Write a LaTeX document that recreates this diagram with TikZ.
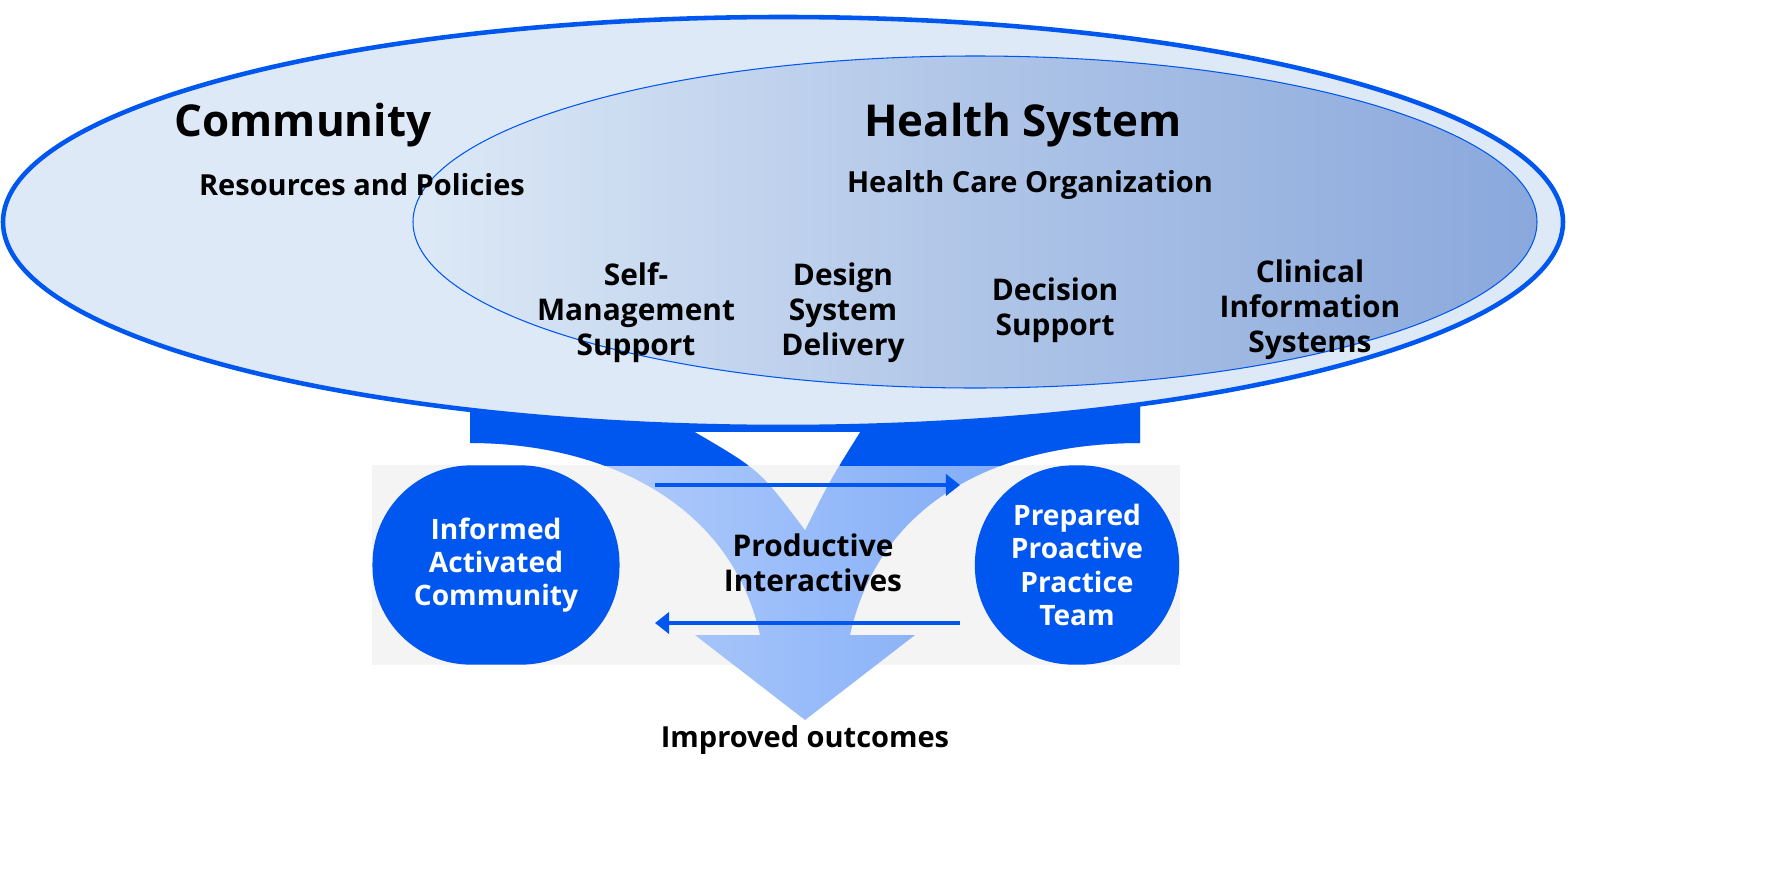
\documentclass[tikz,border=0pt]{standalone}
\usepackage{fontspec}
\setmainfont{Open Sans}
\usetikzlibrary{arrows.meta}
\definecolor{ccmblue}{HTML}{0057F0}
\definecolor{ccmpale}{HTML}{DDE9F6}
\definecolor{ccmmid}{HTML}{8AA8DC}
\definecolor{ccmgray}{HTML}{F4F4F4}
\begin{document}
\begin{tikzpicture}[x=0.02cm,y=-0.02cm]
\tikzstyle{head}=[font=\bfseries\fontsize{25}{29}\selectfont]
\tikzstyle{sub}=[font=\bfseries\fontsize{16.5}{19}\selectfont]
\tikzstyle{item}=[font=\bfseries\fontsize{17}{20}\selectfont,align=center]
\tikzstyle{pill}=[fill=ccmblue,rounded corners=56pt,text=white,align=center,font=\bfseries\fontsize{16}{19}\selectfont]
\tikzstyle{flow}=[ccmblue,line width=2.5pt,-{Triangle[length=8pt,width=12pt]}]
\useasboundingbox (0,0) rectangle (1768,872);
% lower panel
\fill[ccmgray] (372,465) rectangle (1180,665);
\def\funnel{(470,380) -- (1140,380) -- (1140,443) .. controls (1000,443) and (880,500) .. (850,635) -- (915,635) -- (805,720) -- (695,635) -- (760,635) .. controls (730,500) and (600,443) .. (470,443) -- cycle}
\shade[left color=ccmblue!25,right color=ccmblue!55] \funnel;
\begin{scope}
\clip (0,370) rectangle (1768,465);
\fill[ccmblue] \funnel;
\fill[white] (695,432) .. controls (760,470) .. (805,530) .. controls (830,480) .. (860,432) -- cycle;
\end{scope}
\begin{scope}
\clip (0,465) rectangle (1768,872);
\fill[ccmgray] (695,432) .. controls (760,470) .. (805,530) .. controls (830,480) .. (860,432) -- cycle;
\end{scope}
% ellipses
\draw[ccmblue,line width=2.6pt,fill=ccmpale] (783,222) ellipse [x radius=780,y radius=205];
\shade[left color=ccmpale,right color=ccmmid,middle color=ccmmid!55!ccmpale] (975,222) ellipse [x radius=562,y radius=166];
\draw[ccmblue,line width=0.6pt] (975,222) ellipse [x radius=562,y radius=166];
% texts
\node[head] (community) at (303,125) {Community};
\node[sub] (resources) at (362,185) {Resources and Policies};
\node[head] (health) at (1023,125) {Health System};
\node[sub] (hco) at (1030,185) {Health Care Organization};
\node[item] (selfman) at (636,313) {Self-\\Management\\Support};
\node[item] (design) at (843,313) {Design\\System\\Delivery};
\node[item] (decision) at (1055,310) {Decision\\Support};
\node[item] (clinical) at (1310,310) {Clinical\\Information\\Systems};
\node[pill,minimum width=248pt*0.567,minimum height=200pt*0.567] (informed) at (496,565) {Informed\\Activated\\Community};
\node[pill,minimum width=205pt*0.567,minimum height=200pt*0.567] (prepared) at (1077,565) {Prepared\\Proactive\\Practice\\Team};
\node[item] (productive) at (813,563) {Productive\\Interactives};
\node[sub] (outcomes) at (805,740) {Improved outcomes};
\coordinate (topL) at (655,485);
\coordinate (topR) at (960,485);
\coordinate (botR) at (960,623);
\coordinate (botL) at (655,623);
\draw[flow] (topL) -- (topR);
\draw[flow] (botR) -- (botL);
\end{tikzpicture}
\end{document}
